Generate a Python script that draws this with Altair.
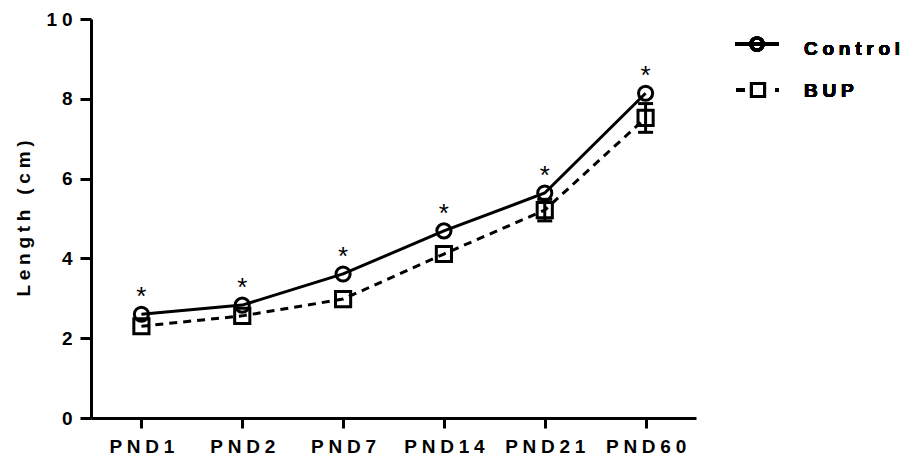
import altair as alt
import pandas as pd

# ---- data ----
days = ["PND1", "PND2", "PND7", "PND14", "PND21", "PND60"]
series = ["Control", "BUP"]
control = [2.60, 2.83, 3.61, 4.69, 5.64, 8.14]
bup = [2.30, 2.56, 2.98, 4.11, 5.21, 7.52]
control_err = [0, 0, 0, 0, 0, 0]
bup_err = [0, 0, 0, 0, 0.27, 0.36]
signif = ["*", "*", "*", "*", "*", "*"]
y_ticks = [0, 2, 4, 6, 8, 10]
y_title = "Length (cm)"

SP = "\u2005"  # four-per-em space used as letter spacing


def spaced(s):
    words = [SP.join(list(w)) for w in s.split(" ")]
    return (SP + " " + SP).join(words)


FONT = "Liberation Sans"
LBL_EXPR = "replace(datum.label, regexp('(.)(?=.)', 'g'), '$1\u2005')"

rows = []
for i, d in enumerate(days):
    rows.append({"day": d, "group": series[0], "v": control[i], "e": control_err[i], "star": signif[i]})
    rows.append({"day": d, "group": series[1], "v": bup[i], "e": bup_err[i], "star": ""})
df = pd.DataFrame(rows)
df["lo"] = df["v"] - df["e"]
df["hi"] = df["v"] + df["e"]

xenc = alt.X(
    "day:N",
    sort=days,
    scale=alt.Scale(type="point", padding=0.5),
    axis=alt.Axis(title=None, labelAngle=0, labelExpr=LBL_EXPR, labelPadding=9),
)
yscale = alt.Scale(domain=[0, 10], nice=False)
yenc = alt.Y(
    "v:Q",
    scale=yscale,
    axis=alt.Axis(
        values=y_ticks,
        title=spaced(y_title),
        titleX=-68,
        titleY=199,
        titleAlign="center",
        titleBaseline="middle",
        titleAngle=-90,
        labelPadding=8,
        labelExpr=LBL_EXPR,
    ),
)

base = alt.Chart(df)

ctrl = base.transform_filter(alt.datum.group == series[0])
bupd = base.transform_filter(alt.datum.group == series[1])

line_c = ctrl.mark_line(color="black", strokeWidth=3).encode(x=xenc, y=yenc)
line_b = bupd.mark_line(color="black", strokeWidth=3, strokeDash=[8, 6]).encode(x=xenc, y=yenc)

errs = base.transform_filter(alt.datum.e > 0)
err_rule = errs.mark_rule(color="black", strokeWidth=3).encode(
    x=alt.X("day:N", sort=days), y=alt.Y("lo:Q", scale=yscale), y2="hi:Q"
)
err_lo = errs.mark_tick(color="black", thickness=3, size=15, orient="horizontal", opacity=1).encode(
    x=alt.X("day:N", sort=days), y=alt.Y("lo:Q", scale=yscale)
)
err_hi = errs.mark_tick(color="black", thickness=3, size=15, orient="horizontal", opacity=1).encode(
    x=alt.X("day:N", sort=days), y=alt.Y("hi:Q", scale=yscale)
)

pt_c = ctrl.mark_point(shape="circle", filled=False, color="black", strokeWidth=3, size=200, opacity=1).encode(
    x=xenc, y=yenc
)
pt_b = bupd.mark_point(shape="square", filled=False, color="black", strokeWidth=3, size=230, opacity=1).encode(
    x=xenc, y=yenc
)

stars = ctrl.mark_text(font=FONT, fontSize=26, color="black", baseline="middle", dy=-17).encode(
    x=xenc, y=yenc, text="star:N"
)

# ---- manual legend ----
leg_c_line = base.mark_rule(color="black", strokeWidth=3).encode(
    x=alt.value(644), x2=alt.value(688), y=alt.value(25)
)
leg_c_pt = base.mark_point(shape="circle", filled=False, color="black", strokeWidth=3, size=150, opacity=1).encode(
    x=alt.value(666), y=alt.value(25)
)
leg_b_line = base.mark_rule(color="black", strokeWidth=3, strokeDash=[9, 30, 4, 10]).encode(
    x=alt.value(645), x2=alt.value(689), y=alt.value(71)
)
leg_b_pt = base.mark_point(shape="square", filled=False, color="black", strokeWidth=3, size=170, opacity=1).encode(
    x=alt.value(667), y=alt.value(71)
)
leg_c_txt = base.mark_text(
    font=FONT, fontSize=19, fontWeight="bold", align="left", baseline="middle", text=spaced(series[0])
).encode(x=alt.value(713), y=alt.value(30))
leg_b_txt = base.mark_text(
    font=FONT, fontSize=19, fontWeight="bold", align="left", baseline="middle", text=spaced(series[1])
).encode(x=alt.value(713), y=alt.value(72))

chart = (
    alt.layer(
        line_c, line_b, err_rule, err_lo, err_hi, pt_c, pt_b, stars,
        leg_c_line, leg_c_pt, leg_b_line, leg_b_pt, leg_c_txt, leg_b_txt,
    )
    .properties(
        width=605,
        height=399,
        autosize=alt.AutoSizeParams(type="none"),
        padding={"left": 83, "top": 11, "right": 209, "bottom": 38},
    )
    .configure_view(stroke=None)
    .configure_axis(
        grid=False,
        domainColor="black",
        domainWidth=3,
        tickColor="black",
        tickWidth=3,
        tickSize=11,
        labelFont=FONT,
        labelFontSize=19,
        labelFontWeight="bold",
        labelColor="black",
        titleFont=FONT,
        titleFontSize=19,
        titleFontWeight="bold",
        titleColor="black",
    )
    .configure_axisX(tickSize=10)
)

chart.save("out.html", embed_options={"renderer": "svg", "actions": False})
